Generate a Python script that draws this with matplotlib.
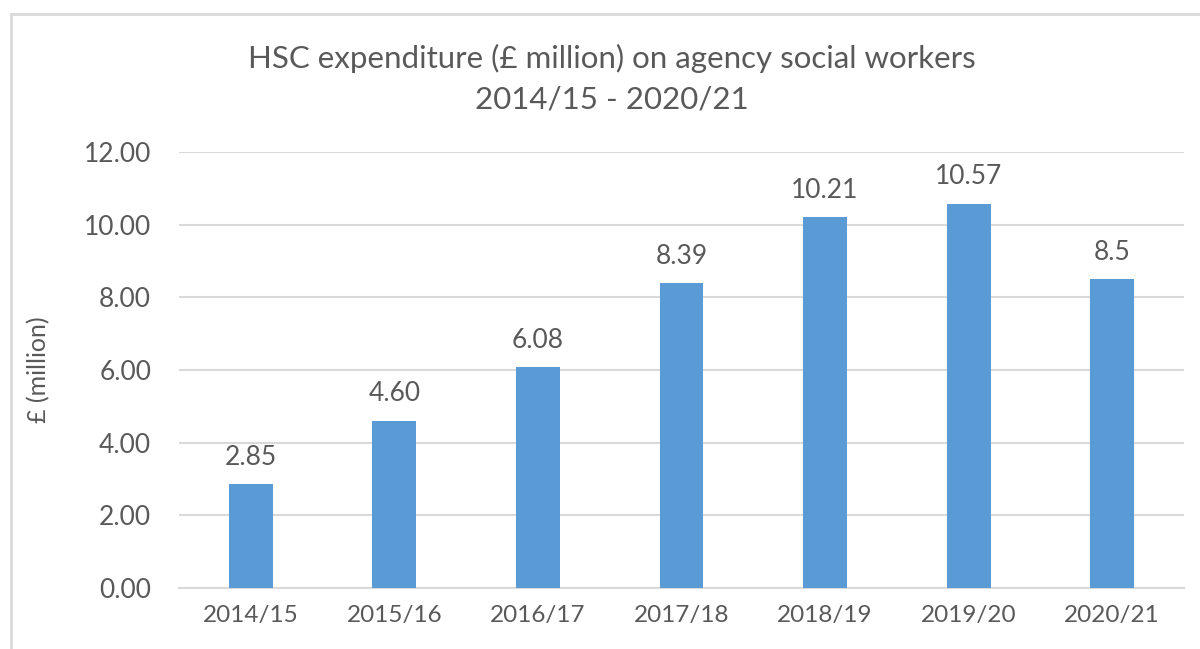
import matplotlib
matplotlib.use("Agg")
import matplotlib.pyplot as plt
from matplotlib.patches import Rectangle

# data
years = ["2014/15", "2015/16", "2016/17", "2017/18", "2018/19", "2019/20", "2020/21"]
spend = [2.85, 4.60, 6.08, 8.39, 10.21, 10.57, 8.5]
bar_labels = ["2.85", "4.60", "6.08", "8.39", "10.21", "10.57", "8.5"]
yticks = [0, 2, 4, 6, 8, 10, 12]

TXT = "#595959"
plt.rcParams["font.family"] = ["Lato", "DejaVu Sans"]

fig = plt.figure(figsize=(12, 6.49), dpi=100)
ax = fig.add_axes([179 / 1200, 1 - 588 / 649, (1184 - 179) / 1200, (588 - 152) / 649])

# chart border
fig.patches.append(Rectangle((11 / 1200, -0.1), 1.2, 1 - 14 / 649 + 0.1,
                             transform=fig.transFigure, fill=False,
                             edgecolor="#D9D9D9", linewidth=2))

x = range(len(years))
bars = ax.bar(x, spend, width=0.306, color="#5B9BD5", zorder=3)
for b, lab in zip(bars, bar_labels):
    ax.text(b.get_x() + b.get_width() / 2, b.get_height() + 0.4, lab,
            ha="center", va="bottom", fontsize=19, color=TXT)

ax.set_xlim(-0.5, len(years) - 0.5)
ax.set_ylim(0, 12)
ax.set_yticks(yticks)
ax.set_yticklabels([f"{v:.2f}" for v in yticks])
ax.set_xticks(list(x))
ax.set_xticklabels(years)
ax.tick_params(axis="x", length=0, labelsize=17.5, colors=TXT, pad=12)
ax.tick_params(axis="y", length=0, labelsize=19, colors=TXT, pad=20)
ax.yaxis.grid(True, color="#D9D9D9", linewidth=1.5, zorder=0)
for s in ["top", "right", "left"]:
    ax.spines[s].set_visible(False)
ax.spines["bottom"].set_color("#D9D9D9")
ax.spines["bottom"].set_linewidth(1.5)

ax.set_ylabel("£ (million)", fontsize=18, color=TXT, labelpad=24)

fig.text(612 / 1200, 1 - 58 / 649, "HSC expenditure (£ million) on agency social workers",
         ha="center", va="center", fontsize=22.5, color=TXT)
fig.text(612 / 1200, 1 - 100 / 649, "2014/15 - 2020/21",
         ha="center", va="center", fontsize=22.5, color=TXT)

fig.savefig("out.png", dpi=100)
